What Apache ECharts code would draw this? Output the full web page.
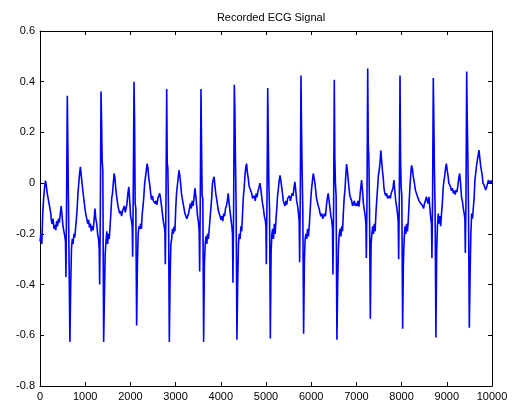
<!DOCTYPE html>
<html>
<head>
<meta charset="utf-8">
<script src="https://cdn.jsdelivr.net/npm/echarts@6/dist/echarts.min.js"></script>
<style>
html,body{margin:0;padding:0;background:#fff;}
#c{width:513px;height:407px;}
</style>
</head>
<body>
<div id="c"></div>
<script>
const titleText = 'Recorded ECG Signal';
const xTicks = [0,1000,2000,3000,4000,5000,6000,7000,8000,9000,10000];
const yTicks = [-0.8,-0.6,-0.4,-0.2,0,0.2,0.4,0.6];

// sample index of each R peak
const rSamples = [604,1350,2080,2803,3562,4299,5038,5774,6511,7250,7965,8701,9440];
// sample offsets (relative to R peak) at which each beat was read
const beatOffsets = [-355,-335,-315,-295,-275,-255,-235,-215,-195,-175,-155,-135,-115,-95,-75,-55,
  -40,-30,-15,0,12,25,40,58,75,92,
  110,128,146,164,182,200,218,236,254,272,290,308,326,344];

const leadIn = [[0,-0.23],[20,-0.2],[40,-0.24],[60,-0.12],[80,-0.06],[100,-0.02],[120,0.01],[140,-0.01],[160,-0.04],[180,-0.06],[200,-0.08],[220,-0.1],[240,-0.12]];
const tail = [[9800,0.0],[9830,-0.01],[9860,-0.027],[9890,-0.01],[9920,0.012],[9950,0.0],[9980,0.01],[10000,0.0]];

const beat1 = [-0.145,-0.16,-0.14,-0.18,-0.165,-0.185,-0.15,-0.17,-0.14,-0.155,-0.12,-0.09,-0.13,-0.17,-0.19,-0.21,
  -0.23,-0.37,-0.05,0.345,0.15,-0.067,-0.07,-0.626,-0.41,-0.26,
  -0.22,-0.24,-0.2,-0.215,-0.18,-0.145,-0.1,-0.04,0.0,0.039,0.064,0.03,0.0,-0.03];
const beat2 = [-0.1,-0.125,-0.14,-0.16,-0.145,-0.175,-0.16,-0.19,-0.17,-0.185,-0.15,-0.1,-0.14,-0.16,-0.2,-0.22,
  -0.26,-0.4,-0.1,0.361,0.25,0.09,0.05,-0.626,-0.45,-0.28,
  -0.23,-0.19,-0.24,-0.2,-0.22,-0.17,-0.12,-0.06,-0.04,0.0,0.038,0.02,-0.02,-0.05];
const beat3 = [-0.09,-0.106,-0.12,-0.11,-0.13,-0.11,-0.1,-0.09,-0.115,-0.1,-0.08,-0.04,-0.015,-0.07,-0.13,-0.15,
  -0.17,-0.29,0.0,0.4,0.26,-0.08,-0.1,-0.561,-0.32,-0.2,
  -0.17,-0.18,-0.16,-0.18,-0.12,-0.09,-0.05,0.0,0.025,0.05,0.077,0.06,0.02,0.0];
const beat4 = [-0.04,-0.065,-0.05,-0.07,-0.065,-0.08,-0.07,-0.085,-0.06,-0.05,-0.04,-0.06,-0.09,-0.12,-0.15,-0.17,
  -0.19,-0.32,-0.05,0.371,0.08,0.06,-0.1,-0.626,-0.38,-0.24,
  -0.22,-0.18,-0.2,-0.17,-0.19,-0.1,-0.04,-0.01,0.02,0.051,0.03,0.0,-0.04,-0.06];
const beat5 = [-0.12,-0.13,-0.14,-0.145,-0.12,-0.1,-0.08,-0.1,-0.07,-0.09,-0.06,-0.02,-0.05,-0.09,-0.13,-0.157,
  -0.19,-0.348,-0.05,0.371,0.15,-0.05,-0.06,-0.626,-0.32,-0.24,
  -0.21,-0.24,-0.2,-0.22,-0.18,-0.14,-0.1,-0.06,0.0,0.015,0.025,-0.01,-0.04,-0.06];
const beat6 = [-0.106,-0.12,-0.13,-0.145,-0.13,-0.15,-0.12,-0.13,-0.1,-0.09,-0.07,-0.04,-0.08,-0.11,-0.14,-0.17,
  -0.2,-0.393,-0.1,0.388,0.29,0.1,-0.1,-0.618,-0.39,-0.24,
  -0.2,-0.22,-0.17,-0.19,-0.12,-0.054,-0.02,0.03,0.064,0.077,0.04,0.02,-0.01,-0.02];
const beat7 = [-0.04,-0.06,-0.065,-0.05,-0.07,-0.04,-0.055,-0.03,-0.02,0.0,-0.02,-0.05,-0.08,-0.1,-0.13,-0.145,
  -0.17,-0.32,-0.05,0.375,0.18,0.0,-0.1,-0.613,-0.27,-0.2,
  -0.18,-0.22,-0.16,-0.2,-0.145,-0.1,-0.05,-0.02,0.01,0.031,0.01,-0.015,-0.04,-0.07];
const beat8 = [-0.09,-0.07,-0.085,-0.06,-0.065,-0.05,-0.07,-0.054,-0.04,-0.05,-0.02,0.005,-0.03,-0.07,-0.09,-0.12,
  -0.15,-0.312,-0.05,0.424,0.22,0.05,-0.1,-0.594,-0.31,-0.22,
  -0.2,-0.22,-0.18,-0.21,-0.17,-0.12,-0.06,-0.02,0.01,0.038,0.02,0.0,-0.03,-0.06];
const beat9 = [-0.09,-0.1,-0.12,-0.13,-0.12,-0.14,-0.13,-0.12,-0.13,-0.09,-0.06,-0.04,-0.07,-0.1,-0.13,-0.15,
  -0.18,-0.36,-0.1,0.408,0.1,0.0,-0.05,-0.618,-0.4,-0.25,
  -0.2,-0.18,-0.21,-0.17,-0.19,-0.12,-0.06,-0.027,0.03,0.075,0.05,0.012,-0.02,-0.05];
const beat10 = [-0.07,-0.09,-0.093,-0.07,-0.09,-0.08,-0.09,-0.07,-0.093,-0.06,-0.02,0.012,-0.03,-0.08,-0.106,-0.13,
  -0.16,-0.295,-0.05,0.452,0.155,0.1,-0.1,-0.535,-0.24,-0.2,
  -0.17,-0.2,-0.16,-0.19,-0.12,-0.067,-0.02,0.03,0.05,0.08,0.129,0.09,0.05,0.02];
const beat11 = [-0.02,-0.04,-0.05,-0.04,-0.06,-0.054,-0.05,-0.06,-0.04,-0.045,-0.02,0.012,-0.03,-0.07,-0.093,-0.12,
  -0.15,-0.3,-0.05,0.424,0.1,-0.015,-0.05,-0.574,-0.31,-0.22,
  -0.17,-0.2,-0.16,-0.19,-0.15,-0.08,-0.02,0.03,0.07,0.06,0.03,0.012,-0.01,-0.03];
const beat12 = [-0.05,-0.06,-0.07,-0.065,-0.08,-0.085,-0.09,-0.1,-0.08,-0.07,-0.054,-0.06,-0.08,-0.054,-0.1,-0.14,
  -0.16,-0.295,-0.05,0.415,0.26,0.05,-0.1,-0.609,-0.27,-0.17,
  -0.12,-0.16,-0.13,-0.17,-0.12,-0.08,-0.02,0.01,0.03,0.06,0.077,0.05,0.03,0.0];
const beat13 = [-0.015,-0.03,-0.02,-0.04,-0.03,-0.045,-0.027,-0.035,-0.01,0.02,0.038,0.0,-0.054,-0.07,-0.1,-0.12,
  -0.14,-0.275,-0.05,0.44,0.25,0.116,-0.1,-0.57,-0.37,-0.2,
  -0.12,-0.14,-0.1,-0.06,0.012,0.04,0.07,0.09,0.11,0.13,0.1,0.07,0.064,0.03];

const beats = [beat1,beat2,beat3,beat4,beat5,beat6,beat7,beat8,beat9,beat10,beat11,beat12,beat13];

let ecg = leadIn.slice();
beats.forEach(function(vals, i){
  vals.forEach(function(v, k){ ecg.push([rSamples[i] + beatOffsets[k], v]); });
});
ecg = ecg.concat(tail);

const fontFam = 'Arial, "Liberation Sans", sans-serif';
const chart = echarts.init(document.getElementById('c'), null, {renderer:'canvas'});
const yFmt = function(v){ const r = Math.round(v*10)/10; return String(r); };
const xFmt = function(v){ return String(Math.round(v)); };
const axisLine = {show:true, onZero:false, lineStyle:{color:'#000', width:1}};
const tickIn = {show:true, inside:true, length:4, lineStyle:{color:'#000', width:1}};

chart.setOption({
  animation:false,
  backgroundColor:'#fff',
  title:{
    text:titleText, left:266, top:7, textAlign:'center',
    textStyle:{fontFamily:fontFam, fontSize:11, fontWeight:'normal', color:'#000'}
  },
  grid:{left:40, right:21, top:31, bottom:21, containLabel:false},
  xAxis:[
    {type:'value', min:xTicks[0], max:xTicks[xTicks.length-1], interval:1000, position:'bottom',
     axisLine:axisLine, axisTick:tickIn, splitLine:{show:false},
     axisLabel:{fontFamily:fontFam, fontSize:11, color:'#000', margin:5, formatter:xFmt}},
    {type:'value', min:xTicks[0], max:xTicks[xTicks.length-1], interval:1000, position:'top',
     axisLine:axisLine, axisTick:tickIn, splitLine:{show:false}, axisLabel:{show:false}}
  ],
  yAxis:[
    {type:'value', min:yTicks[0], max:yTicks[yTicks.length-1], interval:0.2, position:'left',
     axisLine:axisLine, axisTick:tickIn, splitLine:{show:false},
     axisLabel:{fontFamily:fontFam, fontSize:11, color:'#000', margin:5, formatter:yFmt}},
    {type:'value', min:yTicks[0], max:yTicks[yTicks.length-1], interval:0.2, position:'right',
     axisLine:axisLine, axisTick:tickIn, splitLine:{show:false}, axisLabel:{show:false}}
  ],
  series:[{
    type:'line', data:ecg, xAxisIndex:0, yAxisIndex:0,
    showSymbol:false, symbol:'none',
    lineStyle:{color:'#0000ff', width:1.6},
    clip:true
  }]
});
</script>
</body>
</html>
